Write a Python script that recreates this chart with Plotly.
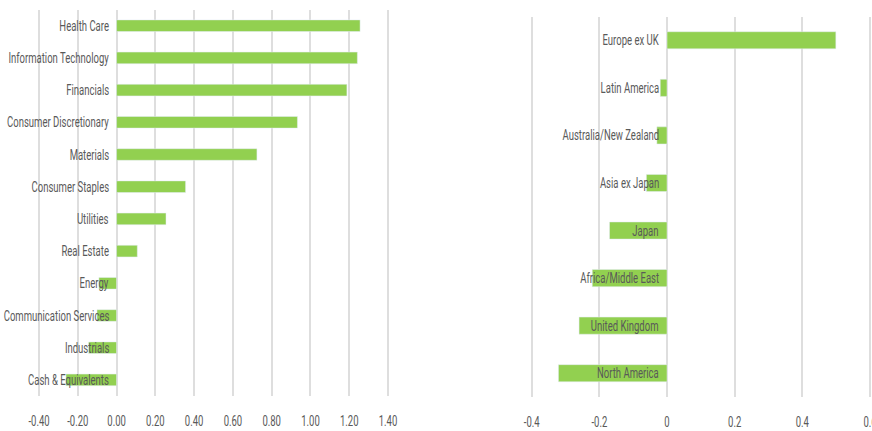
import plotly.graph_objects as go

sectors = ["Health Care", "Information Technology", "Financials", "Consumer Discretionary",
           "Materials", "Consumer Staples", "Utilities", "Real Estate", "Energy",
           "Communication Services", "Industrials", "Cash & Equivalents"]
sector_values = [1.256, 1.242, 1.188, 0.933, 0.724, 0.356, 0.255, 0.107, -0.091, -0.101, -0.144, -0.261]

regions = ["Europe ex UK", "Latin America", "Australia/New Zealand", "Asia ex Japan",
           "Japan", "Africa/Middle East", "United Kingdom", "North America"]
region_values = [0.499, -0.020, -0.030, -0.061, -0.170, -0.221, -0.260, -0.321]

left_ticks = [-0.4, -0.2, 0.0, 0.2, 0.4, 0.6, 0.8, 1.0, 1.2, 1.4]
left_ticktext = ["-0.40", "-0.20", "0.00", "0.20", "0.40", "0.60", "0.80", "1.00", "1.20", "1.40"]
right_ticks = [-0.4, -0.2, 0.0, 0.2, 0.4, 0.6]
right_ticktext = ["-0.4", "-0.2", "0", "0.2", "0.4", "0.6"]

GREEN = "#92d050"
GRID = "#dedede"
TEXT = "#595959"
FONT = "Roboto, Liberation Sans, sans-serif"
FS = 14

fig = go.Figure()
fig.add_trace(go.Bar(y=sectors, x=sector_values, orientation="h", marker_color=GREEN,
                     width=0.36, xaxis="x", yaxis="y", showlegend=False))
fig.add_trace(go.Bar(y=regions, x=region_values, orientation="h", marker_color=GREEN,
                     width=0.36, xaxis="x2", yaxis="y2", showlegend=False))

W, H = 872, 431
axis_common = dict(showgrid=True, gridcolor=GRID, gridwidth=1.5, zeroline=False,
                   showline=False, ticks="", ticklabelstandoff=15, automargin=False,
                   ticklabeloverflow="allow",
                   tickfont=dict(family=FONT, size=FS, color=TEXT), fixedrange=True)

# left: 193.9 px per unit, right: 338.3 px per unit; ranges padded so edge gridlines show
fig.update_layout(
    width=W, height=H,
    margin=dict(l=0, r=0, t=0, b=0),
    paper_bgcolor="white", plot_bgcolor="white",
    font=dict(family=FONT, size=FS, color=TEXT),
    xaxis=dict(domain=[37.06 / W, 389.94 / W], range=[-0.41, 1.41], tickvals=left_ticks,
               ticktext=left_ticktext, anchor="y", **axis_common),
    yaxis=dict(domain=[35 / H, 421.4 / H], categoryorder="array", categoryarray=sectors,
               autorange="reversed", showticklabels=False, showgrid=False, zeroline=False,
               automargin=False, anchor="x"),
    xaxis2=dict(domain=[529.67 / W, 1.0], range=[-0.406, 0.6059], tickvals=right_ticks,
                ticktext=right_ticktext, anchor="y2", **axis_common),
    yaxis2=dict(domain=[34 / H, 414.5 / H], categoryorder="array", categoryarray=regions,
                autorange="reversed", showticklabels=False, showgrid=False, zeroline=False,
                automargin=False, anchor="x2"),
)

for cat in sectors:
    fig.add_annotation(x=0, y=cat, xref="x", yref="y", text=cat, showarrow=False,
                       xanchor="right", xshift=-6, font=dict(family=FONT, size=FS, color=TEXT))
for cat in regions:
    fig.add_annotation(x=0, y=cat, xref="x2", yref="y2", text=cat, showarrow=False,
                       xanchor="right", xshift=-6, font=dict(family=FONT, size=FS, color=TEXT))

# condense text horizontally (the original uses a narrow typeface)
post = """
(function(){
  var gd = document.getElementById('{plot_id}');
  var S = 0.68;
  function squeezeEl(t, side){
    try {
      var orig = t.getAttribute('data-otf');
      if (orig === null) { orig = t.getAttribute('transform') || ''; t.setAttribute('data-otf', orig); }
      var bb = t.getBBox();
      var cx = side === 'right' ? bb.x + bb.width : bb.x + bb.width / 2;
      t.setAttribute('transform', orig + ' translate(' + cx + ',0) scale(' + S + ',1) translate(' + (-cx) + ',0)');
    } catch (e) {}
  }
  function squeeze(){
    gd.querySelectorAll('.annotation-text').forEach(function(t){ squeezeEl(t, 'right'); });
    gd.querySelectorAll('.xtick text, .x2tick text').forEach(function(t){ squeezeEl(t, 'center'); });
  }
  squeeze();
  if (gd.on) { gd.on('plotly_afterplot', squeeze); }
})();
"""
fig.write_html("out.html", post_script=post)
